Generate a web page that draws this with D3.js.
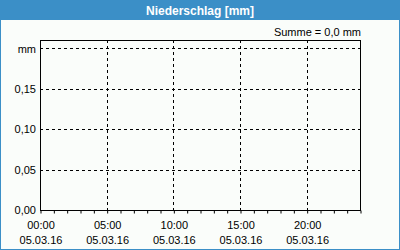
<!DOCTYPE html>
<html lang="de">
<head>
  <meta charset="UTF-8">
  <title>Niederschlag [mm]</title>
  <script src="https://d3js.org/d3.v7.min.js"></script>
  <style>
    body { margin: 0; background: #fff; }
    svg { display: block; font-family: "Liberation Sans", Arial, sans-serif; }
    .tick text { font-size: 11px; fill: #000; }
  </style>
</head>
<body>
  <svg id="chart" width="400" height="250"></svg>

  <script>
    // Chart data
    const title = "Niederschlag [mm]";
    const unit = "mm";
    const day = "2016-03-05";
    // hourly precipitation, all hours dry
    const hours = [0, 1, 2, 3, 4, 5, 6, 7, 8, 9, 10, 11, 12, 13, 14, 15, 16, 17, 18, 19, 20, 21, 22, 23];
    const precip = [0, 0, 0, 0, 0, 0, 0, 0, 0, 0, 0, 0, 0, 0, 0, 0, 0, 0, 0, 0, 0, 0, 0, 0];
    const yTicks = [0, 0.05, 0.10, 0.15, 0.20];
    const xLabelHours = [0, 5, 10, 15, 20];

    const svg = d3.select("#chart");
    const W = 400, H = 250;
    const blue = "#3b8fc7";
    const margin = { top: 40, right: 40, bottom: 40, left: 40 };

    // panel background + border
    svg.append("rect")
       .attr("x", 0.5).attr("y", 0.5)
       .attr("width", W - 1).attr("height", H - 1)
       .attr("fill", "#fafdfa")
       .attr("stroke", blue);
    svg.append("rect")
       .attr("x", 0).attr("y", 0)
       .attr("width", W).attr("height", 20)
       .attr("fill", blue);
    svg.append("text")
       .attr("x", W / 2).attr("y", 15)
       .attr("text-anchor", "middle")
       .attr("font-size", 12).attr("font-weight", "bold")
       .attr("fill", "#fff")
       .text(title);

    const parse = d3.timeParse("%Y-%m-%d %H");
    const t0 = parse(day + " 00");
    const t1 = d3.timeDay.offset(t0, 1);

    const x = d3.scaleTime()
                .domain([t0, t1])
                .range([margin.left, W - margin.right]);
    const y = d3.scaleLinear()
                .domain([0, 0.2105])
                .range([H - margin.bottom, margin.top]);

    const px = v => Math.round(v) + 0.5;

    // sum text
    const sum = d3.sum(precip);
    svg.append("text")
       .attr("x", W - margin.right + 1).attr("y", 36)
       .attr("text-anchor", "end")
       .attr("font-size", 11)
       .text(`Summe = ${sum.toFixed(1).replace(".", ",")} ${unit}`);

    // horizontal gridlines
    svg.append("g").selectAll("line")
       .data(yTicks.filter(d => d > 0))
       .join("line")
       .attr("x1", margin.left).attr("x2", W - margin.right)
       .attr("y1", d => px(y(d))).attr("y2", d => px(y(d)))
       .attr("stroke", "#000")
       .attr("stroke-dasharray", "3,3")
       .attr("shape-rendering", "crispEdges");

    // vertical gridlines
    svg.append("g").selectAll("line")
       .data(xLabelHours.filter(h => h > 0))
       .join("line")
       .attr("x1", h => px(x(d3.timeHour.offset(t0, h))))
       .attr("x2", h => px(x(d3.timeHour.offset(t0, h))))
       .attr("y1", margin.top).attr("y2", H - margin.bottom)
       .attr("stroke", "#000")
       .attr("stroke-dasharray", "3,3")
       .attr("shape-rendering", "crispEdges");

    // bars (hourly precipitation)
    const barW = x(d3.timeHour.offset(t0, 1)) - x(t0);
    svg.append("g").selectAll("rect")
       .data(hours)
       .join("rect")
       .attr("x", h => x(d3.timeHour.offset(t0, h)) + 1)
       .attr("width", barW - 2)
       .attr("y", (h, i) => y(precip[i]))
       .attr("height", (h, i) => y(0) - y(precip[i]))
       .attr("fill", blue);

    // frame
    svg.append("rect")
       .attr("x", margin.left + 0.5).attr("y", margin.top + 0.5)
       .attr("width", W - margin.left - margin.right)
       .attr("height", H - margin.top - margin.bottom)
       .attr("fill", "none")
       .attr("stroke", "#000")
       .attr("shape-rendering", "crispEdges");

    // hourly minor ticks on the x axis
    const xAxis = d3.axisBottom(x)
                    .tickValues(hours.map(h => d3.timeHour.offset(t0, h)).concat([t1]))
                    .tickSize(3)
                    .tickFormat("");
    const gx = svg.append("g")
       .attr("transform", `translate(0.5, ${H - margin.bottom + 0.5})`)
       .call(xAxis);
    gx.select(".domain").remove();

    // x labels: time + date on two lines
    const fmtTime = d3.timeFormat("%H:%M");
    const fmtDate = d3.timeFormat("%d.%m.%y");
    const xl = svg.append("g").attr("font-size", 11).attr("text-anchor", "middle");
    xLabelHours.forEach(h => {
      const t = d3.timeHour.offset(t0, h);
      xl.append("text").attr("x", x(t) + 1).attr("y", 229).text(fmtTime(t));
      xl.append("text").attr("x", x(t) + 1).attr("y", 244).text(fmtDate(t));
    });

    // y axis labels
    const yAxis = d3.axisLeft(y)
                    .tickValues(yTicks)
                    .tickSize(0)
                    .tickPadding(4)
                    .tickFormat(d => d >= 0.2 ? unit : d3.format(".2f")(d).replace(".", ","));
    const gy = svg.append("g")
       .attr("transform", `translate(${margin.left}, 0)`)
       .call(yAxis);
    gy.select(".domain").remove();
    gy.attr("font-family", null);
  </script>
</body>
</html>
